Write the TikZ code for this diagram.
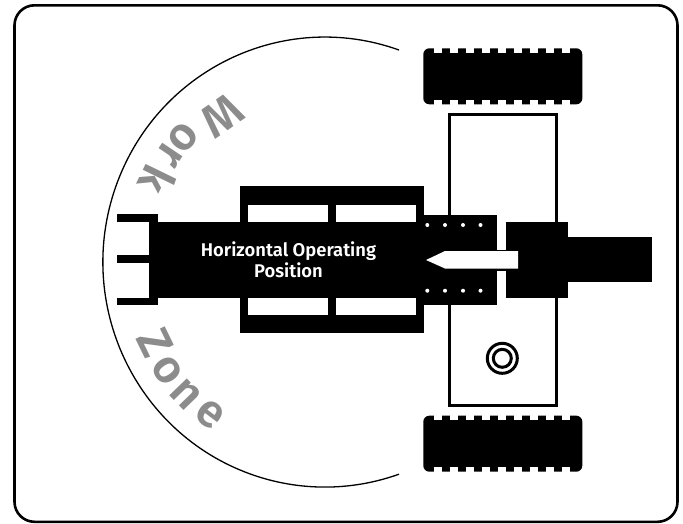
\documentclass[tikz,border=0pt]{standalone}
\usepackage{fontspec}
\setmainfont{Fira Sans SemiBold}
\tikzset{
    blackpart/.style={fill=black},
    holepart/.style={fill=white},
    workletter/.style={text=black!45, font=\fontsize{46}{46}\selectfont, inner sep=0pt},
    wheelline/.style={line width=3pt}
}
\begin{document}
\begin{tikzpicture}[x=1pt, y=-1pt]
    \useasboundingbox (0,0) rectangle (683,523);

    % frame
    \draw[line width=2.6pt, rounded corners=20pt] (14.5,5.3) rectangle (677.5,521.8);

    % work zone
    \draw[line width=1.3pt] (399,50) arc [start angle=70.5, end angle=289.5, x radius=222pt, y radius=225pt];
    \foreach \letter/\xpos/\ypos/\turn in {W/222/116/215, o/183/138/230, r/170/155/236, k/158/180/244,
                                           Z/155/343/296, o/167/371/305, n/186/394/314, e/210/414/323} {
        \node[workletter, rotate=\turn] at (\xpos,\ypos) {\letter};
    }

    % tires and axle
    \foreach \ypos in {48.3,415.7} {
        \fill[rounded corners=6pt] (423.3,\ypos) rectangle (582.3,\ypos+56);
        \foreach \notch in {434,450,...,562} {
            \fill[white] (\notch,\ypos-1) rectangle (\notch+8,\ypos+4.3);
            \fill[white] (\notch,\ypos+51.7) rectangle (\notch+8,\ypos+57);
        }
    }
    \draw[wheelline] (449,114) rectangle (556,405.5);
    \draw[wheelline] (502.3,358.3) circle (15);
    \draw[wheelline] (502.3,358.3) circle (9);

    % forks
    \fill[blackpart] (117,214) rectangle (158,222);
    \fill[blackpart] (117,255) rectangle (158,263);
    \fill[blackpart] (117,297.5) rectangle (158,305);
    \fill[blackpart] (149,214) rectangle (158,305);

    % boom
    \fill[blackpart] (158,222) rectangle (424,298);
    \fill[blackpart] (240,186) rectangle (424,333);
    \foreach \xpos in {248,336} {
        \fill[holepart] (\xpos,205) rectangle (\xpos+80,222);
        \fill[holepart] (\xpos,298) rectangle (\xpos+80,315);
    }
    \fill[blackpart] (416,215) rectangle (497,305);
    \foreach \xpos in {427.3,445,463,480.5} {
        \fill[white] (\xpos,225) circle (2);
        \fill[white] (\xpos,290.7) circle (2);
    }

    % rear
    \fill[blackpart] (497,249.5) rectangle (506,270.5);
    \fill[blackpart] (506,222) rectangle (568,298);
    \fill[blackpart] (568,237) rectangle (652,282);
    \fill[white] (426,260) -- (445,251) -- (518,251) -- (518,268.5) -- (445,268.5) -- cycle;

    \node[white, align=center, font=\fontsize{18.4}{21}\selectfont, inner sep=0pt] (label) at (288.5,260) {Horizontal Operating\\Position};
\end{tikzpicture}
\end{document}
